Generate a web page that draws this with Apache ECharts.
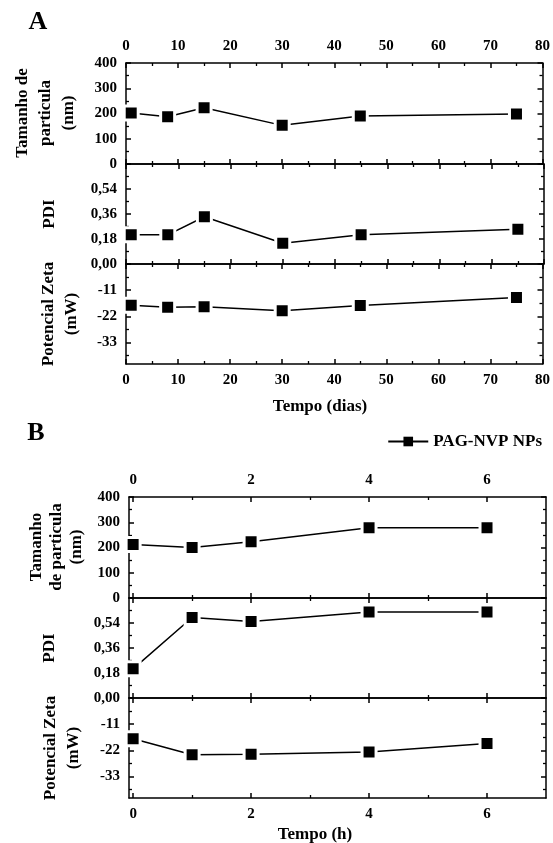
<!DOCTYPE html>
<html><head><meta charset="utf-8">
<script src="https://cdn.jsdelivr.net/npm/echarts@6/dist/echarts.min.js"></script>
<style>html,body{margin:0;padding:0;background:#fff}#c{width:553px;height:843px}</style>
</head><body><div id="c"></div>
<script>
// ---- data ----
const daysA = [1, 8, 15, 30, 45, 75];
const sizeA = [202, 187, 223, 153, 190, 198];
const pdiA = [0.21, 0.21, 0.34, 0.15, 0.21, 0.25];
const zetaA = [-17.3, -18.2, -18.0, -19.6, -17.4, -14.1];

const hoursB = [0, 1, 2, 4, 6];
const sizeB = [212, 200, 223, 278, 278];
const pdiB = [0.21, 0.58, 0.55, 0.62, 0.62];
const zetaB = [-17.1, -23.8, -23.6, -22.7, -19.1];

const xTicksA = [0, 10, 20, 30, 40, 50, 60, 70, 80];
const xMinorA = [5, 15, 25, 35, 45, 55, 65, 75];
const xTicksB = [0, 2, 4, 6];
const xMinorB = [1, 3, 5];
const sizeTicks = [0, 100, 200, 300, 400];
const sizeMinor = [50, 150, 250, 350];
const pdiTicks = [0, 0.18, 0.36, 0.54];
const pdiMajor = [0, 0.18, 0.36, 0.54, 0.72];
const pdiMinor = [0.09, 0.27, 0.45, 0.63];
const zetaTicks = [-33, -22, -11];
const zetaMajor = [-33, -22, -11, 0];
const zetaMinor = [-38.5, -27.5, -16.5, -5.5];
const seriesName = 'PAG-NVP NPs';

// ---- build ----
const FONT = 'Liberation Serif';
const grids = [
  {left: 126, top: 63, width: 418, height: 101},
  {left: 126, top: 164, width: 418, height: 100},
  {left: 126, top: 264, width: 418, height: 100},
  {left: 129, top: 497, width: 417, height: 101},
  {left: 129, top: 598, width: 417, height: 100},
  {left: 129, top: 698, width: 417, height: 100}
];
const xAxis = [], yAxis = [];
function addAxis(list, gi, pos, min, max, majors, minors, labels, fmt) {
  const base = {type: 'value', gridIndex: gi, position: pos, min: min, max: max,
    splitLine: {show: false}, axisPointer: {show: false}};
  const idx = list.length;
  list.push(Object.assign({}, base, {
    axisLine: {show: true, onZero: false, lineStyle: {color: '#000', width: 1.5}},
    axisTick: {show: true, inside: true, length: 5, customValues: majors, lineStyle: {color: '#000', width: 1.5}},
    axisLabel: {show: !!labels, customValues: labels || [], margin: 9, formatter: fmt,
      color: '#000', fontFamily: FONT, fontWeight: 'bold', fontSize: 15}
  }));
  list.push(Object.assign({}, base, {
    axisLine: {show: false, onZero: false},
    axisTick: {show: true, inside: true, length: 3, customValues: minors, lineStyle: {color: '#000', width: 1.3}},
    axisLabel: {show: false}
  }));
  return idx;
}
const intFmt = v => String(v);
const pdiFmt = v => v.toFixed(2).replace('.', ',');

const panels = [
  {g: 0, xr: [0, 80], xm: xTicksA, xn: xMinorA, top: xTicksA, bot: null, yr: [0, 400], ym: sizeTicks, yn: sizeMinor, yl: sizeTicks, fmt: intFmt, xs: daysA, ys: sizeA},
  {g: 1, xr: [0, 80], xm: xTicksA, xn: xMinorA, top: null, bot: null, yr: [0, 0.72], ym: pdiMajor, yn: pdiMinor, yl: pdiTicks, fmt: pdiFmt, xs: daysA, ys: pdiA},
  {g: 2, xr: [0, 80], xm: xTicksA, xn: xMinorA, top: null, bot: xTicksA, yr: [-42, 0], ym: zetaMajor, yn: zetaMinor, yl: zetaTicks, fmt: intFmt, xs: daysA, ys: zetaA},
  {g: 3, xr: [-0.07, 7], xm: xTicksB, xn: xMinorB, top: xTicksB, bot: null, yr: [0, 400], ym: sizeTicks, yn: sizeMinor, yl: sizeTicks, fmt: intFmt, xs: hoursB, ys: sizeB},
  {g: 4, xr: [-0.07, 7], xm: xTicksB, xn: xMinorB, top: null, bot: null, yr: [0, 0.72], ym: pdiMajor, yn: pdiMinor, yl: pdiTicks, fmt: pdiFmt, xs: hoursB, ys: pdiB},
  {g: 5, xr: [-0.07, 7], xm: xTicksB, xn: xMinorB, top: null, bot: xTicksB, yr: [-42, 0], ym: zetaMajor, yn: zetaMinor, yl: zetaTicks, fmt: intFmt, xs: hoursB, ys: zetaB}
];
const series = [];
panels.forEach(p => {
  const xi = addAxis(xAxis, p.g, 'bottom', p.xr[0], p.xr[1], p.xm, p.xn, p.bot, intFmt);
  addAxis(xAxis, p.g, 'top', p.xr[0], p.xr[1], p.xm, p.xn, p.top, intFmt);
  const yi = addAxis(yAxis, p.g, 'left', p.yr[0], p.yr[1], p.ym, p.yn, p.yl, p.fmt);
  addAxis(yAxis, p.g, 'right', p.yr[0], p.yr[1], p.ym, p.yn, null, p.fmt);
  series.push({
    type: 'line', name: seriesName, xAxisIndex: xi, yAxisIndex: yi,
    data: p.xs.map((x, i) => [x, p.ys[i]]),
    symbol: 'rect', symbolSize: 14, showAllSymbol: true,
    lineStyle: {color: '#000', width: 1.5},
    itemStyle: {color: '#000', borderColor: '#fff', borderWidth: 3},
    z: 5
  });
});

function txt(x, y, text, size, rot, lh) {
  return {type: 'text', x: x, y: y, rotation: rot ? Math.PI / 2 : 0, silent: true,
    style: {text: text, fill: '#000', fontFamily: FONT, fontWeight: 'bold', fontSize: size,
      lineHeight: lh || size + 4, align: 'center', verticalAlign: 'middle',
      textAlign: 'center', textVerticalAlign: 'middle'}};
}

const option = {
  animation: false,
  backgroundColor: '#fff',
  grid: grids,
  xAxis: xAxis,
  yAxis: yAxis,
  series: series,
  legend: {
    data: [seriesName], right: 6, top: 428, itemWidth: 40, itemHeight: 12, itemGap: 4,
    itemStyle: {borderWidth: 0},
    lineStyle: {width: 2},
    textStyle: {color: '#000', fontFamily: FONT, fontWeight: 'bold', fontSize: 17}
  },
  graphic: [
    txt(38, 22, 'A', 26, false),
    txt(36, 433, 'B', 26, false),
    txt(46, 113, 'Tamanho de\nparticula\n(nm)', 17, true, 23),
    txt(50, 214, 'PDI', 17, true),
    txt(60, 314, 'Potencial Zeta\n(mW)', 17, true, 23),
    txt(320, 407, 'Tempo (dias)', 17, false),
    txt(57, 547, 'Tamanho\nde particula\n(nm)', 17, true, 20),
    txt(50, 648, 'PDI', 17, true),
    txt(62, 748, 'Potencial Zeta\n(mW)', 17, true, 23),
    txt(315, 835, 'Tempo (h)', 17, false)
  ]
};
const chart = echarts.init(document.getElementById('c'));
chart.setOption(option);
</script>
</body></html>
